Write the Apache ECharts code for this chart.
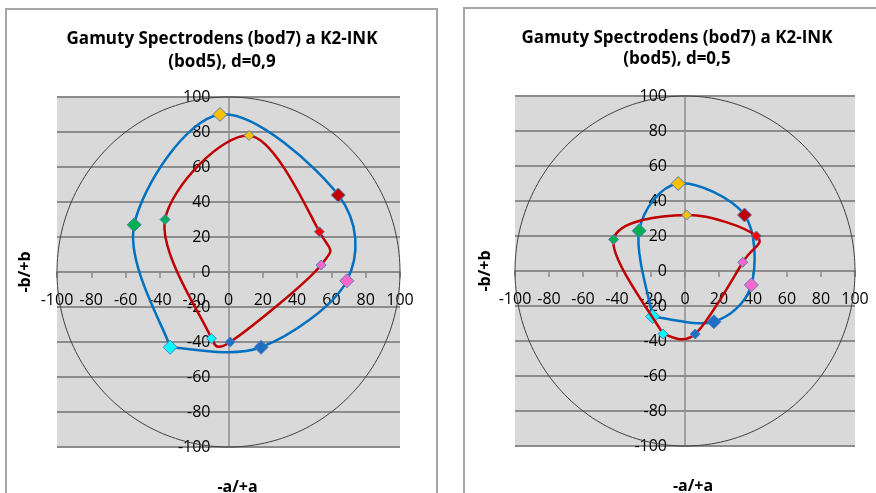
<!DOCTYPE html>
<html>
<head>
<meta charset="utf-8">
<script src="https://cdn.jsdelivr.net/npm/echarts@6/dist/echarts.min.js"></script>
<style>html,body{margin:0;padding:0;background:#fff}#c{width:876px;height:493px}</style>
</head>
<body>
<div id="c"></div>
<script>
// Point order: cyan, green, yellow, red, magenta, blue (loop closed back to first)
var leftSpectroA = [-34, -55, -5, 64, 69, 19];
var leftSpectroB = [-43, 27, 90, 44, -5, -43];
var leftK2A = [-10, -37, 12, 53, 54, 1];
var leftK2B = [-38, 30, 78, 23, 4, -40];
var rightSpectroA = [-19, -27, -4, 35, 39, 17];
var rightSpectroB = [-26, 23, 50, 32, -8, -29];
var rightK2A = [-13, -42, 1, 42, 34, 6];
var rightK2B = [-36, 18, 32, 20, 5, -36];
var spectroColors = ['#00ffff', '#00b050', '#ffc000', '#c00000', '#ff66cc', '#1f6fc4'];
var k2Colors = ['#00ffff', '#00b050', '#ffc000', '#ff0000', '#ff66cc', '#1f6fc4'];
var titles = ['Gamuty Spectrodens (bod7) a K2-INK\n(bod5), d=0,9', 'Gamuty Spectrodens (bod7) a K2-INK\n(bod5), d=0,5'];
var circleRadius = 100;

var FONT = '"Open Sans", sans-serif';

function loopData(a, b) {
  var d = [];
  for (var i = 0; i <= a.length; i++) { var k = i % a.length; d.push([a[k], b[k]]); }
  return d;
}
function pointData(a, b, colors) {
  return a.map(function (v, k) { return { value: [a[k], b[k]], itemStyle: { color: colors[k] } }; });
}

// Smooth curve (Catmull-Rom style Bezier, like the spreadsheet's smoothed line)
function curveSeries(idx, a, b, lineColor, z) {
  return {
    type: 'custom', xAxisIndex: idx, yAxisIndex: idx, z: z, silent: true,
    data: loopData(a, b),
    renderItem: function (params, api) {
      if (params.dataIndexInside !== 0) return;
      var n = params.dataInsideLength, pts = [];
      for (var j = 0; j < n; j++) pts.push(api.coord([api.value(0, j), api.value(1, j)]));
      var children = [];
      for (var i = 0; i < n - 1; i++) {
        var p0 = pts[Math.max(i - 1, 0)], p1 = pts[i], p2 = pts[i + 1], p3 = pts[Math.min(i + 2, n - 1)];
        children.push({
          type: 'bezierCurve',
          shape: {
            x1: p1[0], y1: p1[1], x2: p2[0], y2: p2[1],
            cpx1: p1[0] + (p2[0] - p0[0]) / 6, cpy1: p1[1] + (p2[1] - p0[1]) / 6,
            cpx2: p2[0] - (p3[0] - p1[0]) / 6, cpy2: p2[1] - (p3[1] - p1[1]) / 6
          },
          style: { stroke: lineColor, lineWidth: 2.5, fill: null, lineCap: 'round' }
        });
      }
      return { type: 'group', children: children };
    },
    animation: false
  };
}

function markerSeries(idx, a, b, colors, size, z) {
  return {
    type: 'scatter', xAxisIndex: idx, yAxisIndex: idx, z: z,
    data: pointData(a, b, colors), symbol: 'diamond', symbolSize: size,
    itemStyle: { borderColor: '#4f81bd', borderWidth: 1, opacity: 1 },
    emphasis: { disabled: true }, animation: false
  };
}

function circleSeries(idx) {
  return {
    type: 'custom', xAxisIndex: idx, yAxisIndex: idx, z: 3, silent: true,
    data: [[0, 0, circleRadius]],
    renderItem: function (params, api) {
      var r = api.value(2), pts = [];
      for (var i = 0; i <= 240; i++) {
        var t = i / 240 * Math.PI * 2;
        pts.push(api.coord([r * Math.cos(t), r * Math.sin(t)]));
      }
      return { type: 'polyline', shape: { points: pts }, style: { stroke: '#404040', lineWidth: 1, fill: null } };
    },
    animation: false
  };
}

function xAxis(idx, offset, padL) {
  return {
    gridIndex: idx, type: 'value', min: -100, max: 100, interval: 20,
    position: 'bottom', offset: offset,
    name: '-a/+a', nameLocation: 'middle', nameGap: 207, nameMoveOverlap: false,
    nameTextStyle: { fontFamily: FONT, fontWeight: 'bold', fontSize: 16, color: '#000', padding: [0, 0, 0, padL] },
    axisLine: { onZero: false, lineStyle: { color: '#8c8c8c', width: 1.5 } },
    axisTick: { show: true, length: 6, lineStyle: { color: '#8c8c8c', width: 1.5 } },
    axisLabel: { fontFamily: FONT, fontSize: 16, color: '#000', margin: 20, hideOverlap: false },
    splitLine: { show: false }
  };
}
function yAxis(idx, offset, gap) {
  return {
    gridIndex: idx, type: 'value', min: -100, max: 100, interval: 20,
    position: 'left', offset: offset,
    name: '-b/+b', nameLocation: 'middle', nameGap: gap, nameMoveOverlap: false,
    nameTextStyle: { fontFamily: FONT, fontWeight: 'bold', fontSize: 16, color: '#000' },
    axisLine: { onZero: false, lineStyle: { color: '#8c8c8c', width: 1.5 } },
    axisTick: { show: false },
    axisLabel: { fontFamily: FONT, fontSize: 16, color: '#000', margin: 18, hideOverlap: false },
    splitLine: { show: true, lineStyle: { color: '#8c8c8c', width: 2 } }
  };
}

var chart = echarts.init(document.getElementById('c'), null, { renderer: 'canvas' });
chart.setOption({
  animation: false,
  title: [
    { text: titles[0], left: 222, top: 28, padding: 0, textAlign: 'center', textStyle: { fontFamily: FONT, fontWeight: 'bold', fontSize: 17, lineHeight: 22.5, color: '#000' } },
    { text: titles[1], left: 677, top: 27, padding: 0, textAlign: 'center', textStyle: { fontFamily: FONT, fontWeight: 'bold', fontSize: 17, lineHeight: 21.5, color: '#000' } }
  ],
  graphic: [
    { type: 'rect', shape: { x: 6, y: 9, width: 431, height: 500 }, style: { fill: null, stroke: '#a6a6a6', lineWidth: 2 }, z: -1 },
    { type: 'rect', shape: { x: 464, y: 8, width: 431, height: 500 }, style: { fill: null, stroke: '#a6a6a6', lineWidth: 2 }, z: -1 }
  ],
  grid: [
    { left: 57, top: 97, width: 343, height: 350, show: true, backgroundColor: '#d9d9d9', borderWidth: 0, containLabel: false, outerBoundsMode: 'none' },
    { left: 515, top: 96, width: 340, height: 350, show: true, backgroundColor: '#d9d9d9', borderWidth: 0, containLabel: false, outerBoundsMode: 'none' }
  ],
  xAxis: [xAxis(0, -175, 18), xAxis(1, -175, 16)],
  yAxis: [yAxis(0, -171.5, 195), yAxis(1, -170, 192)],
  series: [
    circleSeries(0), circleSeries(1),
    curveSeries(0, leftSpectroA, leftSpectroB, '#0070c0', 4),
    markerSeries(0, leftSpectroA, leftSpectroB, spectroColors, 14, 5),
    curveSeries(0, leftK2A, leftK2B, '#c00000', 6),
    markerSeries(0, leftK2A, leftK2B, k2Colors, 10, 7),
    curveSeries(1, rightSpectroA, rightSpectroB, '#0070c0', 4),
    markerSeries(1, rightSpectroA, rightSpectroB, spectroColors, 14, 5),
    curveSeries(1, rightK2A, rightK2B, '#c00000', 6),
    markerSeries(1, rightK2A, rightK2B, k2Colors, 10, 7)
  ]
});
</script>
</body>
</html>
